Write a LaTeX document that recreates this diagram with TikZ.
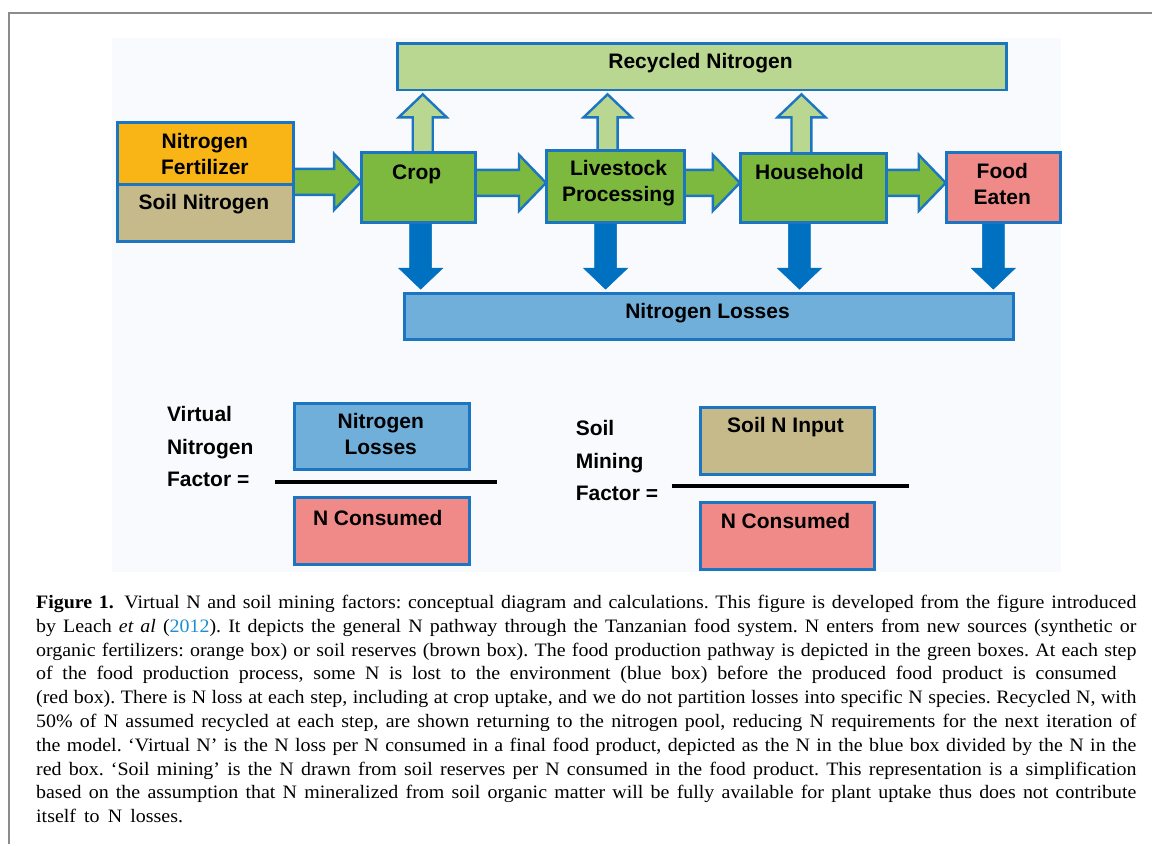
\documentclass[tikz,border=0pt]{standalone}
\usepackage{fontspec}
\setmainfont{Liberation Serif}[FakeStretch=1.05]
\newfontfamily\diagfont{Liberation Sans}
\usetikzlibrary{calc}
\pgfdeclarelayer{back}
\pgfdeclarelayer{arrows}
\pgfsetlayers{back,arrows,main}
\definecolor{bordblue}{RGB}{28,117,192}
\definecolor{downblue}{RGB}{0,112,192}
\definecolor{dgreen}{RGB}{124,185,62}
\definecolor{lgreen}{RGB}{186,215,145}
\definecolor{forange}{RGB}{249,181,22}
\definecolor{soiltan}{RGB}{198,186,139}
\definecolor{fpink}{RGB}{240,138,136}
\definecolor{lblue}{RGB}{113,175,219}
\definecolor{bgtint}{RGB}{249,250,253}
\definecolor{frgray}{RGB}{140,140,140}
\definecolor{citeblue}{RGB}{30,144,210}
\tikzset{
  boxn/.style={draw=bordblue, line width=2.8pt, inner sep=0pt, anchor=north west},
  lbl/.style={font=\diagfont\bfseries\fontsize{21}{26}\selectfont, align=center, inner sep=0pt},
  lbll/.style={font=\diagfont\bfseries\fontsize{21}{32.3}\selectfont, align=left, inner sep=0pt, anchor=west},
  greenarr/.style={fill=dgreen, draw=bordblue, line width=2.4pt, line join=miter},
  uparr/.style={fill=lgreen, draw=bordblue, line width=2.4pt, line join=miter},
  downarr/.style={fill=downblue, draw=downblue, line width=0.5pt, line join=miter},
  capt/.style={anchor=base west, inner sep=0pt, font=\frenchspacing\fontsize{19}{22}\selectfont},
}
\newcommand\harrow[3]{%
  \draw[greenarr] let \p1=(#1.east), \p2=(#2.west) in
   (\x1-4pt,-#3pt+13pt) -- (\x2-26pt,-#3pt+13pt) -- (\x2-26pt,-#3pt+28pt) --
   (\x2+1pt,-#3pt) -- (\x2-26pt,-#3pt-28pt) -- (\x2-26pt,-#3pt-13pt) --
   (\x1-4pt,-#3pt-13pt) -- cycle;}
\newcommand\darrow[3]{%
  \draw[downarr] let \p1=(#1.south), \p2=(#2.north) in
   (#3pt-11pt,\y1+4pt) -- (#3pt-11pt,\y2+24pt) -- (#3pt-22pt,\y2+24pt) --
   (#3pt,\y2+3pt) -- (#3pt+22pt,\y2+24pt) -- (#3pt+11pt,\y2+24pt) --
   (#3pt+11pt,\y1+4pt) -- cycle;}
\newcommand\uarrow[3]{%
  \draw[uparr] let \p1=(#1.north), \p2=(#2.south) in
   (#3pt-10pt,\y1-4pt) -- (#3pt-10pt,\y2-26pt) -- (#3pt-24pt,\y2-26pt) --
   (#3pt,\y2-3pt) -- (#3pt+24pt,\y2-26pt) -- (#3pt+10pt,\y2-26pt) --
   (#3pt+10pt,\y1-4pt) -- cycle;}
\begin{document}
\begin{tikzpicture}[x=1pt,y=-1pt]
\begin{pgfonlayer}{back}
\fill[white] (0,0) rectangle (1153,845);
\draw[frgray, line width=1.6pt] (9,845) -- (9,13) -- (1153,13);
\fill[bgtint] (112,38) rectangle (1062,572);
\end{pgfonlayer}
\useasboundingbox (0,0) rectangle (1153,845);

% boxes
\node[boxn, fill=forange, minimum width=176pt, minimum height=62pt] (fert) at (116.4,121.4) {};
\node[boxn, fill=soiltan, minimum width=176pt, minimum height=57pt] (soil) at (116.4,183.4) {};
\node[boxn, fill=dgreen, minimum width=114.2pt, minimum height=70.2pt] (crop) at (360.4,151.4) {};
\node[boxn, fill=dgreen, minimum width=138.2pt, minimum height=72.2pt] (live) at (545.4,149.4) {};
\node[boxn, fill=dgreen, minimum width=146.2pt, minimum height=69.2pt] (house) at (739.4,152.4) {};
\node[boxn, fill=fpink, minimum width=114.2pt, minimum height=70.2pt] (food) at (945.4,151.4) {};
\node[boxn, fill=lgreen, minimum width=609.2pt, minimum height=46.2pt] (recyc) at (396.4,42.4) {};
\node[boxn, fill=lblue, minimum width=609.2pt, minimum height=46.2pt] (losses) at (403.4,292.4) {};

% arrows (behind the boxes)
\begin{pgfonlayer}{arrows}
\harrow{fert}{crop}{182}
\harrow{crop}{live}{183}
\harrow{live}{house}{183}
\harrow{house}{food}{183}
\darrow{crop}{losses}{421}
\darrow{live}{losses}{606}
\darrow{house}{losses}{800}
\darrow{food}{losses}{994}
\uarrow{crop}{recyc}{423}
\uarrow{live}{recyc}{608}
\uarrow{house}{recyc}{802}
\end{pgfonlayer}

% labels
\node[lbl] (tfert) at (205,154) {Nitrogen\\Fertilizer};
\node[lbl] (tsoil) at (204,204) {Soil Nitrogen};
\node[lbl] (tcrop) at (417,174) {Crop};
\node[lbl] (tlive) at (619,183) {Livestock\\Processing};
\node[lbl] (thouse) at (810,172) {Household};
\node[lbl] (tfood) at (1003,184) {Food\\Eaten};
\node[lbl] (trecyc) at (701,63) {Recycled Nitrogen};
\node[lbl] (tloss) at (708,313) {Nitrogen Losses};

% lower formulas
\node[lbll] (vtext) at (167,447) {Virtual\\Nitrogen\\Factor =};
\node[boxn, fill=lblue, minimum width=175.2pt, minimum height=66.2pt] (vloss) at (293.4,402.4) {};
\node[boxn, fill=fpink, minimum width=175.2pt, minimum height=67.2pt] (vcons) at (293.4,496.4) {};
\node[lbl] (tvloss) at (381,434.5) {Nitrogen\\Losses};
\node[lbl] (tvcons) at (378,518) {N Consumed};
\draw[black, line width=4pt] (275,482) -- (497,482);

\node[lbll] (stext) at (576,461) {Soil\\Mining\\Factor =};
\node[boxn, fill=soiltan, minimum width=174.2pt, minimum height=67.2pt] (sinput) at (699.4,406.4) {};
\node[boxn, fill=fpink, minimum width=174.2pt, minimum height=67.2pt] (scons) at (699.4,501.4) {};
\node[lbl] (tsinput) at (786,427) {Soil N Input};
\node[lbl] (tscons) at (786,521.5) {N Consumed};
\draw[black, line width=4pt] (672,486) -- (910,486);

% caption
\node[capt] (cap1) at (36,609) {\makebox[1101pt][s]{\textbf{Figure 1.}\hspace{0.55em}Virtual N and soil mining factors: conceptual diagram and calculations. This figure is developed from the figure introduced}};
\node[capt] (cap2) at (36,632.8) {\makebox[1101pt][s]{by Leach \textit{et al} (\textcolor{citeblue}{2012}). It depicts the general N pathway through the Tanzanian food system. N enters from new sources (synthetic or}};
\node[capt] (cap3) at (36,656.6) {\makebox[1101pt][s]{organic fertilizers: orange box) or soil reserves (brown box). The food production pathway is depicted in the green boxes. At each step}};
\node[capt] (cap4) at (36,680.4) {\makebox[1081pt][s]{of the food production process, some N is lost to the environment (blue box) before the produced food product is consumed}};
\node[capt] (cap5) at (36,704.2) {\makebox[1101pt][s]{(red box). There is N loss at each step, including at crop uptake, and we do not partition losses into specific N species. Recycled N, with}};
\node[capt] (cap6) at (36,728) {\makebox[1101pt][s]{50\% of N assumed recycled at each step, are shown returning to the nitrogen pool, reducing N requirements for the next iteration of}};
\node[capt] (cap7) at (36,751.8) {\makebox[1101pt][s]{the model. ‘Virtual N’ is the N loss per N consumed in a final food product, depicted as the N in the blue box divided by the N in the}};
\node[capt] (cap8) at (36,775.6) {\makebox[1101pt][s]{red box. ‘Soil mining’ is the N drawn from soil reserves per N consumed in the food product. This representation is a simplification}};
\node[capt] (cap9) at (36,799.4) {\makebox[1101pt][s]{based on the assumption that N mineralized from soil organic matter will be fully available for plant uptake thus does not contribute}};
\node[capt] (cap10) at (36,823.2) {\makebox[147pt][s]{itself to N losses.}};
\end{tikzpicture}
\end{document}
